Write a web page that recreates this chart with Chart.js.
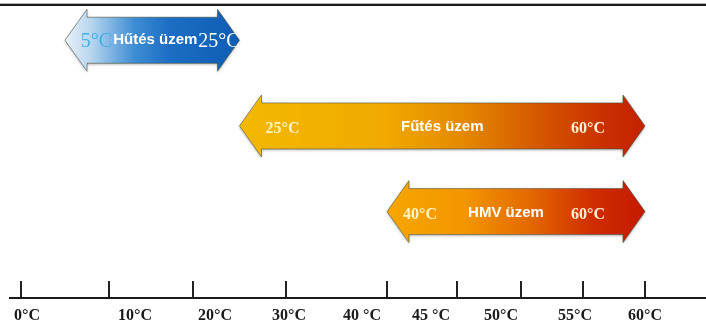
<!DOCTYPE html>
<html>
<head>
<meta charset="utf-8">
<script src="https://cdn.jsdelivr.net/npm/chart.js@4.4.1/dist/chart.umd.min.js"></script>
<style>
    html, body { margin: 0; padding: 0; background: #fff; }
    #wrap { position: relative; width: 706px; height: 334px; overflow: hidden; }
    canvas { display: block; }
    #topRule { position: absolute; left: 0; top: 3px; width: 706px; height: 2px; background: #1c1c1c; border-top: 1px solid #b5b5b5; }
</style>
</head>
<body>
<div id="wrap">
    <canvas id="rangeChart" width="706" height="334"></canvas>
    <div id="topRule"></div>
</div>
<script>
// Operating ranges
const modes = ['Hűtés üzem', 'Fűtés üzem', 'HMV üzem'];
const startTemps = [5, 25, 40];
const endTemps = [25, 60, 60];

// Axis
const tickTemps = [0, 10, 20, 30, 40, 45, 50, 55, 60];
const tickLabels = ['0°C', '10°C', '20°C', '30°C', '40 °C', '45 °C', '50°C', '55°C', '60°C'];

// Piecewise scale: ticks are not evenly spaced on the original drawing
class SegmentScale extends Chart.LinearScale {
    determineDataLimits() {
        this.min = tickTemps[0];
        this.max = tickTemps[tickTemps.length - 1];
    }
    buildTicks() {
        return tickTemps.map(value => ({ value }));
    }
    fractions() {
        const w = Array.from(this.options.weights);
        const total = w.reduce((a, b) => a + b, 0);
        const out = [];
        let acc = 0;
        for (let i = 0; i < w.length - 1; i++) {
            acc += w[i];
            out.push(acc / total);
        }
        return out;
    }
    getPixelForValue(value) {
        const f = this.fractions();
        let i = 0;
        while (i < tickTemps.length - 2 && value > tickTemps[i + 1]) i++;
        const t = (value - tickTemps[i]) / (tickTemps[i + 1] - tickTemps[i]);
        return this.left + (f[i] + t * (f[i + 1] - f[i])) * this.width;
    }
    getValueForPixel(pixel) {
        const f = this.fractions();
        const frac = (pixel - this.left) / this.width;
        let i = 0;
        while (i < f.length - 2 && frac > f[i + 1]) i++;
        const t = (frac - f[i]) / (f[i + 1] - f[i]);
        return tickTemps[i] + t * (tickTemps[i + 1] - tickTemps[i]);
    }
}
SegmentScale.id = 'segment';
SegmentScale.defaults = {};
Chart.register(SegmentScale);

// Double headed arrows drawn over the (invisible) floating bars
const arrowPlugin = {
    id: 'modeArrows',
    afterDatasetsDraw(chart, args, opts) {
        const ctx = chart.ctx;
        const meta = chart.getDatasetMeta(0);
        meta.data.forEach((bar, i) => {
            const { x, y, base, height } = bar.getProps(['x', 'y', 'base', 'height'], true);
            const x0 = Math.min(x, base);
            const x1 = Math.max(x, base);
            const hh = height / 2;
            const head = opts.headHeight / 2;
            const hl = opts.headLength;

            ctx.save();
            ctx.beginPath();
            ctx.moveTo(x0, y);
            ctx.lineTo(x0 + hl, y - head);
            ctx.lineTo(x0 + hl, y - hh);
            ctx.lineTo(x1 - hl, y - hh);
            ctx.lineTo(x1 - hl, y - head);
            ctx.lineTo(x1, y);
            ctx.lineTo(x1 - hl, y + head);
            ctx.lineTo(x1 - hl, y + hh);
            ctx.lineTo(x0 + hl, y + hh);
            ctx.lineTo(x0 + hl, y + head);
            ctx.closePath();

            const g = ctx.createLinearGradient(x0, 0, x1, 0);
            opts.gradients[i].forEach(([o, c]) => g.addColorStop(o, c));
            ctx.shadowColor = 'rgba(0,0,0,0.35)';
            ctx.shadowBlur = 3;
            ctx.shadowOffsetY = 1;
            ctx.fillStyle = g;
            ctx.fill();
            ctx.shadowColor = 'transparent';
            ctx.strokeStyle = 'rgba(70,80,60,0.55)';
            ctx.lineWidth = 1;
            ctx.stroke();

            // labels
            const st = opts.text[i];
            const left = startTemps[i] + '°C';
            const right = endTemps[i] + '°C';
            const ty = y + 1;
            ctx.textBaseline = 'middle';
            if (st.packed) {
                ctx.font = st.edgeFont;
                const wl = ctx.measureText(left).width;
                const wr = ctx.measureText(right).width;
                ctx.font = st.midFont;
                const wm = ctx.measureText(modes[i]).width;
                const total = wl + wm + wr + 2;
                let cx = (x0 + x1) / 2 + st.shift - total / 2;
                ctx.textAlign = 'left';
                ctx.font = st.edgeFont;
                ctx.fillStyle = st.leftColor;
                ctx.fillText(left, cx, ty);
                cx += wl + 1;
                ctx.font = st.midFont;
                ctx.fillStyle = '#ffffff';
                ctx.fillText(modes[i], cx, ty - 1);
                cx += wm + 1;
                ctx.font = st.edgeFont;
                ctx.fillStyle = st.rightColor;
                ctx.fillText(right, cx, ty);
            } else {
                ctx.font = st.edgeFont;
                ctx.fillStyle = st.leftColor;
                ctx.textAlign = 'left';
                ctx.fillText(left, x0 + st.insetL, ty + 2);
                ctx.fillStyle = st.rightColor;
                ctx.textAlign = 'right';
                ctx.fillText(right, x1 - st.insetR, ty + 2);
                ctx.font = st.midFont;
                ctx.fillStyle = '#ffffff';
                ctx.textAlign = 'center';
                ctx.fillText(modes[i], (x0 + x1) / 2 + st.shift, ty);
            }
            ctx.restore();
        });
    }
};

const ctx = document.getElementById('rangeChart').getContext('2d');
new Chart(ctx, {
    type: 'bar',
    data: {
        labels: modes,
        datasets: [{
            data: modes.map((m, i) => ({ y: i, x: [startTemps[i], endTemps[i]] })),
            backgroundColor: 'rgba(0,0,0,0)',
            borderWidth: 0,
            barThickness: 46
        }]
    },
    options: {
        indexAxis: 'y',
        responsive: false,
        animation: false,
        events: [],
        layout: {
            padding: { left: 10, right: 0, top: 0, bottom: 0 }
        },
        scales: {
            y: {
                type: 'linear',
                reverse: true,
                offset: false,
                min: -0.47,
                max: 2.81,
                display: false
            },
            x: {
                type: 'segment',
                position: 'bottom',
                weight: 0,
                weights: [11, 88, 84, 93, 101, 70, 64, 62, 62, 61],
                border: { display: false },
                grid: {
                    display: true,
                    drawOnChartArea: false,
                    drawTicks: true,
                    tickLength: 17,
                    tickColor: '#222',
                    tickWidth: 2,
                    color: '#222',
                    lineWidth: 2
                },
                ticks: { display: false }
            },
            xl: {
                type: 'segment',
                position: 'bottom',
                axis: 'x',
                weight: 1,
                weights: [17, 108, 80, 74, 73, 69, 70, 74, 70, 61],
                border: { display: true, color: '#1a1a1a', width: 2 },
                grid: { display: false, drawTicks: false },
                ticks: {
                    autoSkip: false,
                    maxRotation: 0,
                    padding: 8,
                    color: '#1a1a1a',
                    font: { family: '"Liberation Serif", serif', size: 16, weight: 'bold', lineHeight: 1.25 },
                    callback: (value, index) => tickLabels[index]
                }
            }
        },
        plugins: {
            legend: { display: false },
            tooltip: { enabled: false },
            modeArrows: {
                headHeight: 62,
                headLength: 22,
                gradients: [
                    [[0, '#eaf2fa'], [0.15, '#b7d5ee'], [0.4, '#3d8dd4'], [0.6, '#1c6dc4'], [1, '#0e5db5']],
                    [[0, '#f4b800'], [0.35, '#f1ab00'], [0.55, '#e48900'], [0.75, '#d45400'], [0.9, '#c93000'], [1, '#c42000']],
                    [[0, '#f7a600'], [0.3, '#f39600'], [0.55, '#e36a00'], [0.8, '#d02c00'], [1, '#c41a00']]
                ],
                text: [
                    { packed: true, shift: 8, edgeFont: '20px "Liberation Serif", serif', midFont: 'bold 15px "Liberation Sans", sans-serif', leftColor: '#3db3e6', rightColor: '#ffffff' },
                    { insetL: 26, insetR: 40, shift: 0, edgeFont: 'bold 16px "Liberation Serif", serif', midFont: 'bold 15px "Liberation Sans", sans-serif', leftColor: '#fff4c4', rightColor: '#fff0d8' },
                    { insetL: 16, insetR: 40, shift: -10, edgeFont: 'bold 16px "Liberation Serif", serif', midFont: 'bold 15px "Liberation Sans", sans-serif', leftColor: '#fff4c4', rightColor: '#fff0d8' }
                ]
            }
        }
    },
    plugins: [arrowPlugin]
});
</script>
</body>
</html>
